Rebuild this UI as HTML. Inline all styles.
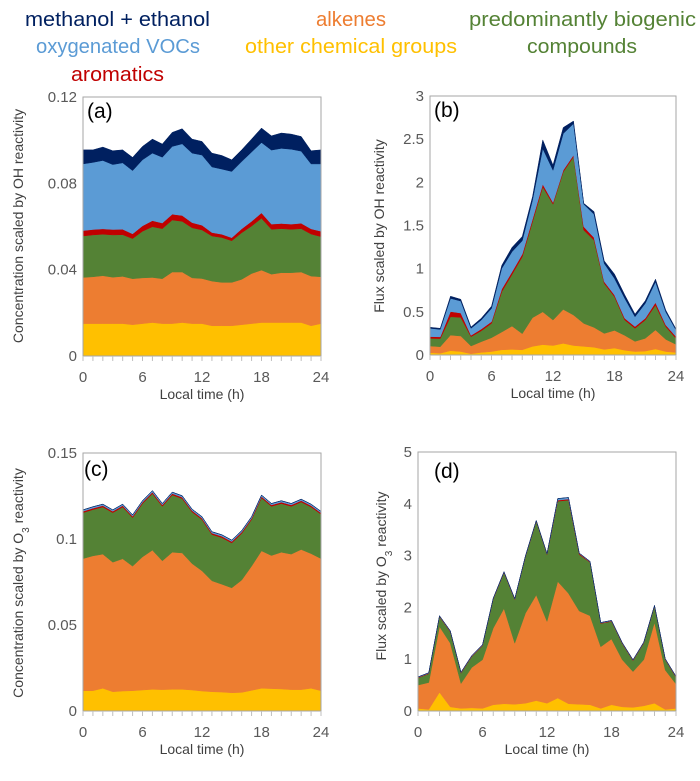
<!DOCTYPE html>
<html><head><meta charset="utf-8">
<style>
html,body{margin:0;padding:0;background:#fff;}
svg{display:block;font-family:"Liberation Sans",sans-serif;}
.tick{fill:#595959;font-size:15px;}
.ttl{fill:#404040;font-size:14px;}
</style></head>
<body>
<svg id="fig" width="700" height="781" viewBox="0 0 700 781" xmlns="http://www.w3.org/2000/svg">
  <g font-size="20">
    <text x="25" y="26" fill="#002060" textLength="185" lengthAdjust="spacingAndGlyphs">methanol + ethanol</text>
    <text x="316" y="26" fill="#ed7d31" textLength="70" lengthAdjust="spacingAndGlyphs">alkenes</text>
    <text x="469" y="26" fill="#548235" textLength="227" lengthAdjust="spacingAndGlyphs">predominantly biogenic</text>
    <text x="36" y="53" fill="#5b9bd5" textLength="164" lengthAdjust="spacingAndGlyphs">oxygenated VOCs</text>
    <text x="245" y="53" fill="#ffc000" textLength="212" lengthAdjust="spacingAndGlyphs">other chemical groups</text>
    <text x="527" y="53" fill="#548235" textLength="110" lengthAdjust="spacingAndGlyphs">compounds</text>
    <text x="71" y="81" fill="#c00000" textLength="93" lengthAdjust="spacingAndGlyphs">aromatics</text>
  </g>
</svg>
<script>
const hours = [0,1,2,3,4,5,6,7,8,9,10,11,12,13,14,15,16,17,18,19,20,21,22,23,24];
const xTickLabels = ["0","6","12","18","24"];
const layerNames = ["other","alkenes","biogenic","aromatics","oxygenated","methanol"];
const layerColors = ["#ffc000","#ed7d31","#548235","#c00000","#5b9bd5","#002060"];

// Panel (a)
const aOther = [.015,.015,.015,.015,.015,.0145,.015,.0155,.015,.015,.0155,.015,.015,.014,.014,.014,.0145,.015,.0155,.0155,.0155,.0155,.0155,.014,.015];
const aAlkenes = [.0214,.0217,.0222,.0215,.0219,.0213,.0212,.0209,.0208,.0239,.0234,.0212,.0209,.0207,.0201,.0201,.021,.0232,.0243,.0224,.0231,.0231,.0234,.023,.0217];
const aBiogenic = [.0192,.0194,.0192,.0196,.0193,.0186,.0216,.0235,.0232,.0241,.0235,.0232,.0225,.0209,.0208,.0193,.0216,.022,.024,.0208,.0204,.0201,.0201,.0195,.0186];
const aAromatics = [.0025,.0025,.0025,.0025,.0025,.0022,.0025,.0028,.0026,.0027,.0027,.0024,.0022,.0016,.0015,.0014,.0018,.0022,.0025,.0024,.0024,.0024,.0025,.0024,.0025];
const aOxygenated = [.0309,.0311,.0317,.0301,.0308,.0293,.0306,.0313,.0305,.0314,.0332,.0322,.0325,.0304,.0302,.0307,.0312,.0321,.0326,.0343,.0348,.0347,.0334,.0301,.0312];
const aMethanol = [.0065,.0058,.0062,.0064,.006,.0061,.0062,.0065,.0061,.0065,.007,.0065,.0063,.0064,.0063,.0054,.0054,.006,.0067,.0066,.0071,.007,.0068,.0061,.0065];
const aYTicks = [0,0.04,0.08,0.12];
const aYTickLabels = ["0","0.04","0.08","0.12"];

// Panel (b)
const bOther = [.027,.02,.05,.04,.015,.03,.04,.06,.065,.06,.1,.12,.11,.135,.11,.1,.09,.065,.08,.055,.04,.045,.07,.04,.03];
const bAlkenes = [.077,.076,.18,.18,.089,.124,.16,.206,.27,.187,.332,.38,.295,.393,.353,.266,.23,.185,.205,.172,.118,.148,.22,.141,.093];
const bBiogenic = [.089,.094,.213,.216,.108,.126,.166,.467,.598,.891,1.111,1.448,1.342,1.593,1.832,1.08,1.01,.579,.39,.178,.151,.212,.288,.147,.07];
const bAromatics = [.02,.02,.06,.05,.015,.02,.02,.03,.03,.03,.03,.03,.02,.02,.02,.04,.03,.02,.02,.02,.02,.02,.03,.02,.02];
const bOxygenated = [.096,.087,.153,.139,.082,.105,.154,.24,.233,.155,.22,.413,.373,.424,.365,.261,.271,.211,.192,.231,.114,.173,.24,.152,.076];
const bMethanol = [.012,.012,.025,.02,.015,.02,.025,.035,.05,.05,.04,.1,.06,.07,.03,.01,.03,.03,.05,.04,.03,.03,.03,.02,.012];
const bYTicks = [0,0.5,1,1.5,2,2.5,3];
const bYTickLabels = ["0","0.5","1","1.5","2","2.5","3"];

// Panel (c)
const cOther = [.0118,.0118,.0132,.0112,.0116,.0118,.0122,.0126,.0124,.0126,.0126,.0122,.0116,.0112,.011,.0106,.0108,.012,.0132,.013,.0128,.0124,.0124,.0132,.0118];
const cAlkenes = [.0768,.0784,.078,.0753,.0769,.0724,.0774,.0809,.0749,.0797,.0793,.0735,.0699,.0645,.0627,.061,.0653,.0722,.0799,.0774,.0795,.0788,.0815,.0783,.0768];
const cBiogenic = [.0267,.0269,.0274,.0288,.0301,.0282,.031,.0329,.0317,.0333,.0316,.03,.0298,.0269,.0271,.0261,.0271,.0271,.0308,.0286,.0283,.0278,.0276,.0271,.0258];
const cAromatics = [.0008,.0008,.0008,.0008,.0008,.0008,.0008,.0008,.0008,.0008,.0008,.0008,.0008,.0008,.0008,.0008,.0008,.0008,.0008,.0008,.0008,.0008,.0008,.0008,.0008];
const cOxygenated = [.0008,.0008,.0008,.0008,.0008,.0008,.0008,.0009,.0008,.0008,.0008,.0008,.0008,.0008,.0008,.0008,.0008,.0008,.0008,.0008,.0008,.0008,.0008,.0008,.0008];
const cMethanol = [.0001,.0001,.0001,.0001,.0001,.0001,.0001,.0001,.0001,.0001,.0001,.0001,.0001,.0001,.0001,.0001,.0001,.0001,.0001,.0001,.0001,.0001,.0001,.0001,.0001];
const cYTicks = [0,0.05,0.1,0.15];
const cYTickLabels = ["0","0.05","0.1","0.15"];

// Panel (d)
const dOther = [.05,.03,.36,.08,.05,.06,.05,.12,.14,.13,.15,.2,.15,.25,.14,.13,.12,.05,.12,.08,.07,.1,.15,.03,.05];
const dAlkenes = [.45,.52,1.27,1.23,.48,.78,.94,1.48,1.84,1.18,1.74,2.04,1.58,2.25,2.13,1.8,1.72,1.19,1.27,.91,.69,.89,1.56,.76,.47];
const dBiogenic = [.14,.17,.19,.22,.2,.21,.27,.56,.69,.84,1.09,1.42,1.29,1.55,1.8,1.09,1.03,.45,.34,.31,.21,.32,.31,.2,.13];
const dAromatics = [.01,.01,.01,.01,.01,.01,.01,.01,.01,.01,.01,.01,.01,.02,.02,.02,.01,.01,.01,.01,.01,.01,.01,.01,.01];
const dOxygenated = [.008,.008,.008,.008,.008,.008,.008,.008,.008,.008,.008,.008,.008,.03,.03,.008,.008,.008,.008,.008,.008,.008,.008,.008,.008];
const dMethanol = [.001,.001,.001,.001,.001,.001,.001,.001,.001,.001,.001,.001,.001,.003,.003,.001,.001,.001,.001,.001,.001,.001,.001,.001,.001];
const dYTicks = [0,1,2,3,4,5];
const dYTickLabels = ["0","1","2","3","4","5"];

const NS = "http://www.w3.org/2000/svg";
const svg = document.getElementById("fig");
function mk(tag, attrs, parent){
  const e = document.createElementNS(NS, tag);
  for (const k in attrs) e.setAttribute(k, attrs[k]);
  (parent||svg).appendChild(e);
  return e;
}

function drawPanel(p){
  const g = mk("g", {});
  
  
  const xs = h => p.x0 + h / 24 * (p.x1 - p.x0);
  const ys = v => p.yb - v / p.ymax * (p.yb - p.yt);
  const base = hours.map(() => 0);
  p.layers.forEach((vals, li) => {
    const top = base.map((b, i) => b + vals[i]);
    let d = "M" + hours.map((h, i) => xs(h).toFixed(2) + "," + ys(top[i]).toFixed(2)).join("L");
    for (let i = hours.length - 1; i >= 0; i--) d += "L" + xs(hours[i]).toFixed(2) + "," + ys(base[i]).toFixed(2);
    d += "Z";
    const path = mk("path", {d: d, fill: layerColors[li], stroke: layerColors[li], "stroke-width": "0.5", "stroke-linejoin": "round"}, g);
    
    
    for (let i = 0; i < base.length; i++) base[i] = top[i];
  });
  const fr = mk("rect", {x: p.x0, y: p.yt, width: p.x1 - p.x0, height: p.yb - p.yt, fill: "none", stroke: "#a6a6a6", "stroke-width": "1"}, g);
  
  
  hours.forEach(h => {
    const t = mk("line", {x1: xs(h), x2: xs(h), y1: p.yb, y2: p.yb + 5, stroke: "#bfbfbf", "stroke-width": "1"}, g);
    
    
  });
  xTickLabels.forEach(lbl => {
    const t = mk("text", {x: xs(+lbl), y: p.yb + 26, "text-anchor": "middle", class: "tick"}, g);
    t.textContent = lbl;
    
    
  });
  p.yTicks.forEach((v, i) => {
    const t = mk("text", {x: p.x0 - 6, y: ys(v) + 5, "text-anchor": "end", class: "tick"}, g);
    t.textContent = p.yLabels[i];
    
    
  });
  const xt = mk("text", {x: (p.x0 + p.x1) / 2, y: p.yb + 43, "text-anchor": "middle", class: "ttl"}, g);
  xt.textContent = "Local time (h)";
  
  
  const yt = mk("text", {x: 0, y: 0, "text-anchor": "middle", class: "ttl", transform: "translate(" + p.ytx + "," + p.yty + ") rotate(-90)"}, g);
  
  
  const s1 = mk("tspan", {}, yt); s1.textContent = p.ytitle[0];
  if (p.ytitle.length > 1){
    const s2 = mk("tspan", {"baseline-shift": "sub", "font-size": "10"}, yt); s2.textContent = p.ytitle[1];
    const s3 = mk("tspan", {}, yt); s3.textContent = p.ytitle[2];
  }
  const pl = mk("text", {x: p.lx, y: p.ly, "font-size": "21", fill: "#000"}, g);
  pl.textContent = "(" + p.id + ")";
  
  
}

drawPanel({id:"a", x0:83, x1:321, yt:97, yb:356, ymax:0.12, yTicks:aYTicks, yLabels:aYTickLabels,
  layers:[aOther,aAlkenes,aBiogenic,aAromatics,aOxygenated,aMethanol],
  ytx:23, yty:226, ytitle:["Concentration scaled by OH reactivity"], lx:87, ly:118});
drawPanel({id:"b", x0:430, x1:676, yt:96, yb:355, ymax:3, yTicks:bYTicks, yLabels:bYTickLabels,
  layers:[bOther,bAlkenes,bBiogenic,bAromatics,bOxygenated,bMethanol],
  ytx:384, yty:226, ytitle:["Flux scaled by OH reactivity"], lx:434, ly:117});
drawPanel({id:"c", x0:83, x1:321, yt:453, yb:711, ymax:0.15, yTicks:cYTicks, yLabels:cYTickLabels,
  layers:[cOther,cAlkenes,cBiogenic,cAromatics,cOxygenated,cMethanol],
  ytx:23, yty:583, ytitle:["Concentration scaled by O","3"," reactivity"], lx:84, ly:476});
drawPanel({id:"d", x0:418, x1:676, yt:452, yb:711, ymax:5, yTicks:dYTicks, yLabels:dYTickLabels,
  layers:[dOther,dAlkenes,dBiogenic,dAromatics,dOxygenated,dMethanol],
  ytx:386, yty:576, ytitle:["Flux scaled by O","3"," reactivity"], lx:434, ly:478});
</script>
</body></html>
